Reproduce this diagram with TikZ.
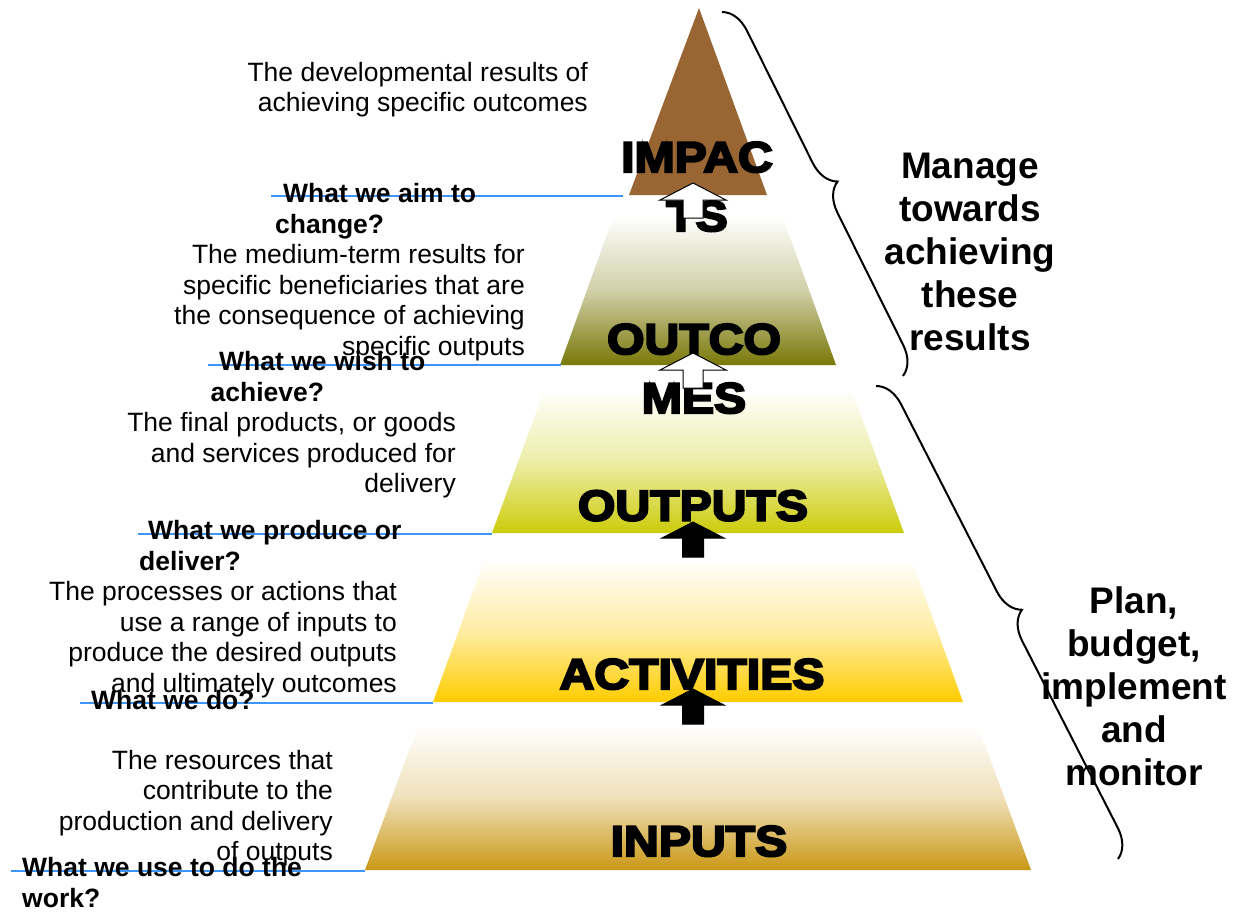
\documentclass[tikz,border=0pt]{standalone}
\usepackage{fontspec}
\setmainfont{Liberation Sans}
\newfontfamily\heavyfont{Liberation Sans}[BoldFeatures={FakeBold=5,FakeStretch=1.12}]
\usetikzlibrary{decorations.pathreplacing}
\pgfdeclarelayer{bg}
\pgfsetlayers{bg,main}

\definecolor{impactbrown}{RGB}{153,102,51}
\definecolor{outcomeolive}{RGB}{122,120,8}
\definecolor{outputlime}{RGB}{204,204,10}
\definecolor{activitygold}{RGB}{255,204,0}
\definecolor{inputgold}{RGB}{202,152,22}
\definecolor{guideblue}{RGB}{60,150,250}

\tikzset{
  desc/.style={anchor=base east, align=right, inner sep=0pt, font=\fontsize{26.5}{30.5}\selectfont},
  question/.style={anchor=base west, align=left, inner sep=0pt, font=\fontsize{26.5}{30.8}\selectfont\bfseries},
  tier/.style={anchor=base, align=center, inner sep=0pt, font=\heavyfont\fontsize{43}{59}\selectfont\bfseries},
  sidenote/.style={anchor=base, align=center, inner sep=0pt, font=\fontsize{37}{42.8}\selectfont\bfseries},
  guide/.style={guideblue, line width=2pt},
  curly/.style={decorate, decoration={brace, amplitude=28pt}, line width=2pt},
  whitearrow/.style={draw=black, fill=white, line width=1pt},
  blackarrow/.style={draw=black, fill=black, line width=1pt},
}

\begin{document}
\begin{tikzpicture}[x=1pt, y=-1pt]
        \useasboundingbox (0,0) rectangle (1238,914);
        \begin{pgfonlayer}{bg}
                \fill [impactbrown] (699,8) -- (767,195) -- (629,195) -- cycle;
                \shade [top color=white, bottom color=outcomeolive, middle color=outcomeolive!35!white] (614,215) -- (782,215) -- (836,365) -- (560,365) -- cycle;
                \shade [top color=white, bottom color=outputlime, middle color=outputlime!35!white] (545,388) -- (851,388) -- (904,533) -- (492,533) -- cycle;
                \shade [top color=white, bottom color=activitygold, middle color=activitygold!35!white] (485,558) -- (911,558) -- (963,702) -- (433,702) -- cycle;
                \shade [top color=white, bottom color=inputgold, middle color=inputgold!30!white] (418,726) -- (978,726) -- (1031,870) -- (365,870) -- cycle;
        \end{pgfonlayer}
        \node (impact) [tier] at (697,231) {IMPAC\\TS};
        \node (outcomes) [tier] at (694,413) {OUTCO\\MES};
        \node (outputs) [tier] at (693,520.5) {OUTPUTS};
        \node (activities) [tier] at (692,689) {ACTIVITIES};
        \node (inputs) [tier] at (699,856) {INPUTS};
        \coordinate (tipimpact) at (693,183);
        \coordinate (tipoutcomes) at (693,353);
        \coordinate (tipoutputs) at (693,522);
        \coordinate (tipactivities) at (693,689);
        \draw [whitearrow] (tipimpact) -- ++(33,17) -- ++(-23,0) -- ++(0,18) -- ++(-20,0) -- ++(0,-18) -- ++(-23,0) -- cycle;
        \draw [whitearrow] (tipoutcomes) -- ++(33,17) -- ++(-23,0) -- ++(0,18) -- ++(-20,0) -- ++(0,-18) -- ++(-23,0) -- cycle;
        \draw [blackarrow] (tipoutputs) -- ++(31,16) -- ++(-20.5,0) -- ++(0,19) -- ++(-21,0) -- ++(0,-19) -- ++(-20.5,0) -- cycle;
        \draw [blackarrow] (tipactivities) -- ++(31,16) -- ++(-20.5,0) -- ++(0,19) -- ++(-21,0) -- ++(0,-19) -- ++(-20.5,0) -- cycle;
        % blue rules under each tier
        \coordinate (aimL) at (271,196);
        \coordinate (aimR) at (623,196);
        \coordinate (wishL) at (208,364.5);
        \coordinate (wishR) at (561,364.5);
        \coordinate (produceL) at (138,534);
        \coordinate (produceR) at (492,534);
        \coordinate (doL) at (80,702.5);
        \coordinate (doR) at (433,702.5);
        \coordinate (useL) at (11,871);
        \coordinate (useR) at (365,871);
        \draw [guide] (aimL) -- (aimR);
        \draw [guide] (wishL) -- (wishR);
        \draw [guide] (produceL) -- (produceR);
        \draw [guide] (doL) -- (doR);
        \draw [guide] (useL) -- (useR);
        \node (impactdesc) [desc] at (588,111.7) {The developmental results of\\achieving specific outcomes};
        \node (outcomedesc) [desc] at (525,355) {The medium-term results for\\specific beneficiaries that are\\the consequence of achieving\\specific outputs};
        \node (outputdesc) [desc] at (456,492.7) {The final products, or goods\\and services produced for\\delivery};
        \node (activitydesc) [desc] at (397,692) {The processes or actions that\\use a range of inputs to\\produce the desired outputs\\and ultimately outcomes};
        \node (inputdesc) [desc] at (333,860.7) {The resources that\\contribute to the\\production and delivery\\of outputs};
        \node (aimq) [question] at (275,233) {\hspace*{8pt}What we aim to\\change?};
        \node (wishq) [question] at (210.5,401) {\hspace*{8.5pt}What we wish to\\achieve?};
        \node (produceq) [question] at (139,570.7) {\hspace*{9pt}What we produce or\\deliver?};
        \node (doq) [question] at (91,709) {What we do?};
        \node (useq) [question] at (22,907.7) {What we use to do the\\work?};
        % braces on the right
        \coordinate (resultsTop) at (722,12);
        \coordinate (resultsBot) at (903,376);
        \coordinate (planTop) at (876,386);
        \coordinate (planBot) at (1118,859);
        \draw [curly] (resultsTop) -- (resultsBot);
        \draw [curly] (planTop) -- (planBot);
        \node (manage) [sidenote] at (970,350) {Manage\\towards\\achieving\\these\\results};
        \node (plan) [sidenote] at (1134,785) {Plan,\\budget,\\implement\\and\\monitor};
\end{tikzpicture}
\end{document}
